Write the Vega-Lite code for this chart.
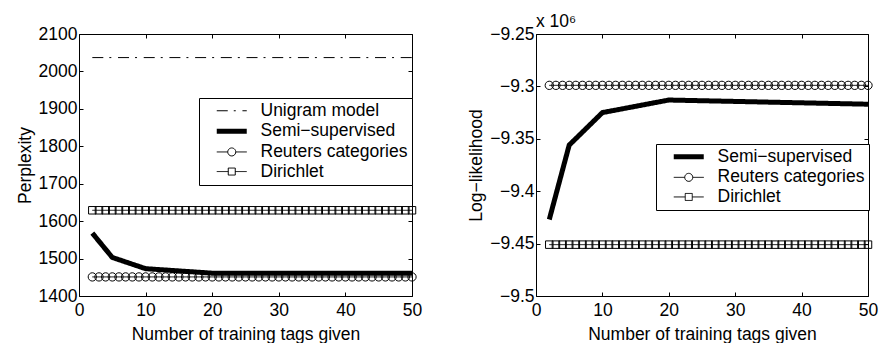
{
  "$schema": "https://vega.github.io/schema/vega-lite/v6.json",
  "background": "white",
  "padding": {"left": 15, "top": 12, "right": 0, "bottom": 0},
  "datasets": {
    "curvesL": [
      {"s": "Unigram model", "x": 2, "y": 2037},
      {"s": "Unigram model", "x": 50, "y": 2037},
      {"s": "Semi−supervised", "x": 2, "y": 1568},
      {"s": "Semi−supervised", "x": 5, "y": 1503},
      {"s": "Semi−supervised", "x": 10, "y": 1473},
      {"s": "Semi−supervised", "x": 20, "y": 1461},
      {"s": "Semi−supervised", "x": 50, "y": 1461},
      {"s": "Reuters categories", "x": 2, "y": 1451},
      {"s": "Reuters categories", "x": 50, "y": 1451},
      {"s": "Dirichlet", "x": 2, "y": 1629},
      {"s": "Dirichlet", "x": 50, "y": 1629}
    ],
    "curvesR": [
      {"s": "Semi−supervised", "x": 2, "y": -9.427},
      {"s": "Semi−supervised", "x": 5, "y": -9.356},
      {"s": "Semi−supervised", "x": 10, "y": -9.325},
      {"s": "Semi−supervised", "x": 20, "y": -9.313},
      {"s": "Semi−supervised", "x": 50, "y": -9.317},
      {"s": "Reuters categories", "x": 2, "y": -9.299},
      {"s": "Reuters categories", "x": 50, "y": -9.299},
      {"s": "Dirichlet", "x": 2, "y": -9.451},
      {"s": "Dirichlet", "x": 50, "y": -9.451}
    ],
    "markers": [
      {"x": 2, "rl": 1451, "dl": 1629, "rr": -9.299, "dr": -9.451},
      {"x": 3, "rl": 1451, "dl": 1629, "rr": -9.299, "dr": -9.451},
      {"x": 4, "rl": 1451, "dl": 1629, "rr": -9.299, "dr": -9.451},
      {"x": 5, "rl": 1451, "dl": 1629, "rr": -9.299, "dr": -9.451},
      {"x": 6, "rl": 1451, "dl": 1629, "rr": -9.299, "dr": -9.451},
      {"x": 7, "rl": 1451, "dl": 1629, "rr": -9.299, "dr": -9.451},
      {"x": 8, "rl": 1451, "dl": 1629, "rr": -9.299, "dr": -9.451},
      {"x": 9, "rl": 1451, "dl": 1629, "rr": -9.299, "dr": -9.451},
      {"x": 10, "rl": 1451, "dl": 1629, "rr": -9.299, "dr": -9.451},
      {"x": 11, "rl": 1451, "dl": 1629, "rr": -9.299, "dr": -9.451},
      {"x": 12, "rl": 1451, "dl": 1629, "rr": -9.299, "dr": -9.451},
      {"x": 13, "rl": 1451, "dl": 1629, "rr": -9.299, "dr": -9.451},
      {"x": 14, "rl": 1451, "dl": 1629, "rr": -9.299, "dr": -9.451},
      {"x": 15, "rl": 1451, "dl": 1629, "rr": -9.299, "dr": -9.451},
      {"x": 16, "rl": 1451, "dl": 1629, "rr": -9.299, "dr": -9.451},
      {"x": 17, "rl": 1451, "dl": 1629, "rr": -9.299, "dr": -9.451},
      {"x": 18, "rl": 1451, "dl": 1629, "rr": -9.299, "dr": -9.451},
      {"x": 19, "rl": 1451, "dl": 1629, "rr": -9.299, "dr": -9.451},
      {"x": 20, "rl": 1451, "dl": 1629, "rr": -9.299, "dr": -9.451},
      {"x": 21, "rl": 1451, "dl": 1629, "rr": -9.299, "dr": -9.451},
      {"x": 22, "rl": 1451, "dl": 1629, "rr": -9.299, "dr": -9.451},
      {"x": 23, "rl": 1451, "dl": 1629, "rr": -9.299, "dr": -9.451},
      {"x": 24, "rl": 1451, "dl": 1629, "rr": -9.299, "dr": -9.451},
      {"x": 25, "rl": 1451, "dl": 1629, "rr": -9.299, "dr": -9.451},
      {"x": 26, "rl": 1451, "dl": 1629, "rr": -9.299, "dr": -9.451},
      {"x": 27, "rl": 1451, "dl": 1629, "rr": -9.299, "dr": -9.451},
      {"x": 28, "rl": 1451, "dl": 1629, "rr": -9.299, "dr": -9.451},
      {"x": 29, "rl": 1451, "dl": 1629, "rr": -9.299, "dr": -9.451},
      {"x": 30, "rl": 1451, "dl": 1629, "rr": -9.299, "dr": -9.451},
      {"x": 31, "rl": 1451, "dl": 1629, "rr": -9.299, "dr": -9.451},
      {"x": 32, "rl": 1451, "dl": 1629, "rr": -9.299, "dr": -9.451},
      {"x": 33, "rl": 1451, "dl": 1629, "rr": -9.299, "dr": -9.451},
      {"x": 34, "rl": 1451, "dl": 1629, "rr": -9.299, "dr": -9.451},
      {"x": 35, "rl": 1451, "dl": 1629, "rr": -9.299, "dr": -9.451},
      {"x": 36, "rl": 1451, "dl": 1629, "rr": -9.299, "dr": -9.451},
      {"x": 37, "rl": 1451, "dl": 1629, "rr": -9.299, "dr": -9.451},
      {"x": 38, "rl": 1451, "dl": 1629, "rr": -9.299, "dr": -9.451},
      {"x": 39, "rl": 1451, "dl": 1629, "rr": -9.299, "dr": -9.451},
      {"x": 40, "rl": 1451, "dl": 1629, "rr": -9.299, "dr": -9.451},
      {"x": 41, "rl": 1451, "dl": 1629, "rr": -9.299, "dr": -9.451},
      {"x": 42, "rl": 1451, "dl": 1629, "rr": -9.299, "dr": -9.451},
      {"x": 43, "rl": 1451, "dl": 1629, "rr": -9.299, "dr": -9.451},
      {"x": 44, "rl": 1451, "dl": 1629, "rr": -9.299, "dr": -9.451},
      {"x": 45, "rl": 1451, "dl": 1629, "rr": -9.299, "dr": -9.451},
      {"x": 46, "rl": 1451, "dl": 1629, "rr": -9.299, "dr": -9.451},
      {"x": 47, "rl": 1451, "dl": 1629, "rr": -9.299, "dr": -9.451},
      {"x": 48, "rl": 1451, "dl": 1629, "rr": -9.299, "dr": -9.451},
      {"x": 49, "rl": 1451, "dl": 1629, "rr": -9.299, "dr": -9.451},
      {"x": 50, "rl": 1451, "dl": 1629, "rr": -9.299, "dr": -9.451}
    ]
  },
  "hconcat": [
    {
      "width": 333,
      "height": 262,
      "resolve": {"axis": {"x": "independent", "y": "independent"}},
      "layer": [
        {
          "data": {"name": "curvesL"},
          "mark": {"type": "line", "color": "black"},
          "encoding": {
            "x": {"field": "x", "type": "quantitative", "scale": {"domain": [0, 50], "nice": false, "zero": false},
              "axis": {"orient": "bottom", "values": [0, 10, 20, 30, 40, 50], "title": "Number of training tags given", "titlePadding": 7}},
            "y": {"field": "y", "type": "quantitative", "scale": {"domain": [1400, 2100], "nice": false, "zero": false},
              "axis": {"orient": "left", "values": [1400, 1500, 1600, 1700, 1800, 1900, 2000, 2100], "format": "d", "title": "Perplexity", "labelPadding": 6}},
            "strokeDash": {"field": "s", "type": "nominal",
              "scale": {"domain": ["Unigram model", "Semi−supervised", "Reuters categories", "Dirichlet"], "range": [[11, 6, 2, 6.7], [1, 0], [1, 0], [1, 0]]},
              "legend": {"orient": "none", "legendX": 120, "legendY": 64,
                "encode": {"symbols": {"update": {
                  "shape": {"signal": "datum.value == 'Reuters categories' ? 'M-3,0L-0.8,0M0.8,0L3,0M0.8,0A0.8,0.8,0,1,1,-0.8,0A0.8,0.8,0,1,1,0.8,0' : datum.value == 'Dirichlet' ? 'M-3,0L-0.7,0M0.7,0L3,0M-0.7,-0.7L0.7,-0.7L0.7,0.7L-0.7,0.7Z' : 'M-3,0L3,0'"},
                  "strokeWidth": {"signal": "datum.value == 'Semi−supervised' ? 5 : 1"},
                  "fill": {"value": "transparent"},
                  "stroke": {"value": "black"}
                }}}}},
            "strokeWidth": {"condition": {"test": "datum.s == 'Semi−supervised'", "value": 5}, "value": 1}
          }
        },
        {
          "data": {"name": "markers"},
          "mark": {"type": "point", "shape": "circle", "size": 69, "filled": false, "color": "black", "strokeWidth": 1, "opacity": 1},
          "encoding": {
            "x": {"field": "x", "type": "quantitative", "axis": {"orient": "top", "values": [0, 10, 20, 30, 40, 50], "labels": false, "title": null}},
            "y": {"field": "rl", "type": "quantitative", "axis": {"orient": "right", "values": [1400, 1500, 1600, 1700, 1800, 1900, 2000, 2100], "labels": false, "title": null}}
          }
        },
        {
          "data": {"name": "markers"},
          "mark": {"type": "point", "shape": "square", "size": 56, "filled": false, "color": "black", "strokeWidth": 1, "opacity": 1},
          "encoding": {
            "x": {"field": "x", "type": "quantitative", "axis": null},
            "y": {"field": "dl", "type": "quantitative", "axis": null}
          }
        }
      ]
    },
    {
      "width": 332,
      "height": 262,
      "title": {"text": "x 10⁶", "anchor": "start", "frame": "group", "fontSize": 17.5, "fontWeight": "normal", "font": "Liberation Sans", "color": "black", "offset": -5},
      "resolve": {"axis": {"x": "independent", "y": "independent"}},
      "layer": [
        {
          "data": {"name": "curvesR"},
          "mark": {"type": "line", "color": "black"},
          "encoding": {
            "x": {"field": "x", "type": "quantitative", "scale": {"domain": [0, 50], "nice": false, "zero": false},
              "axis": {"orient": "bottom", "values": [0, 10, 20, 30, 40, 50], "title": "Number of training tags given", "titlePadding": 7}},
            "y": {"field": "y", "type": "quantitative", "scale": {"domain": [-9.5, -9.25], "nice": false, "zero": false},
              "axis": {"orient": "left", "values": [-9.5, -9.45, -9.4, -9.35, -9.3, -9.25], "format": ".2~f", "title": "Log−likelihood", "labelPadding": 6}},
            "strokeDash": {"field": "s", "type": "nominal",
              "scale": {"domain": ["Semi−supervised", "Reuters categories", "Dirichlet"], "range": [[1, 0], [1, 0], [1, 0]]},
              "legend": {"orient": "none", "legendX": 120, "legendY": 110,
                "encode": {"symbols": {"update": {
                  "shape": {"signal": "datum.value == 'Reuters categories' ? 'M-3,0L-0.8,0M0.8,0L3,0M0.8,0A0.8,0.8,0,1,1,-0.8,0A0.8,0.8,0,1,1,0.8,0' : datum.value == 'Dirichlet' ? 'M-3,0L-0.7,0M0.7,0L3,0M-0.7,-0.7L0.7,-0.7L0.7,0.7L-0.7,0.7Z' : 'M-3,0L3,0'"},
                  "strokeWidth": {"signal": "datum.value == 'Semi−supervised' ? 5 : 1"},
                  "fill": {"value": "transparent"},
                  "stroke": {"value": "black"}
                }}}}},
            "strokeWidth": {"condition": {"test": "datum.s == 'Semi−supervised'", "value": 5}, "value": 1}
          }
        },
        {
          "data": {"name": "markers"},
          "mark": {"type": "point", "shape": "circle", "size": 69, "filled": false, "color": "black", "strokeWidth": 1, "opacity": 1},
          "encoding": {
            "x": {"field": "x", "type": "quantitative", "axis": {"orient": "top", "values": [0, 10, 20, 30, 40, 50], "labels": false, "title": null}},
            "y": {"field": "rr", "type": "quantitative", "axis": {"orient": "right", "values": [-9.5, -9.45, -9.4, -9.35, -9.3, -9.25], "labels": false, "title": null}}
          }
        },
        {
          "data": {"name": "markers"},
          "mark": {"type": "point", "shape": "square", "size": 56, "filled": false, "color": "black", "strokeWidth": 1, "opacity": 1},
          "encoding": {
            "x": {"field": "x", "type": "quantitative", "axis": null},
            "y": {"field": "dr", "type": "quantitative", "axis": null}
          }
        }
      ]
    }
  ],
  "spacing": 44,
  "resolve": {"scale": {"strokeDash": "independent"}, "legend": {"strokeDash": "independent"}},
  "config": {
    "font": "Liberation Sans",
    "view": {"stroke": "black", "strokeWidth": 1},
    "axis": {
      "domain": false, "grid": false, "tickColor": "black", "tickSize": -4, "tickWidth": 1,
      "labelFont": "Liberation Sans", "labelFontSize": 17.5, "labelColor": "black", "labelPadding": 9, "labelFlush": false,
      "titleFont": "Liberation Sans", "titleFontSize": 17.5, "titleFontWeight": "normal", "titleColor": "black", "titlePadding": 4
    },
    "legend": {
      "title": null, "padding": 4, "strokeColor": "black", "fillColor": "white", "cornerRadius": 0,
      "labelFont": "Liberation Sans", "labelFontSize": 17.5, "labelColor": "black", "labelLimit": 300,
      "symbolSize": 100, "rowPadding": 0.6, "labelOffset": 20, "symbolOffset": 20, "symbolStrokeColor": "black"
    }
  }
}
